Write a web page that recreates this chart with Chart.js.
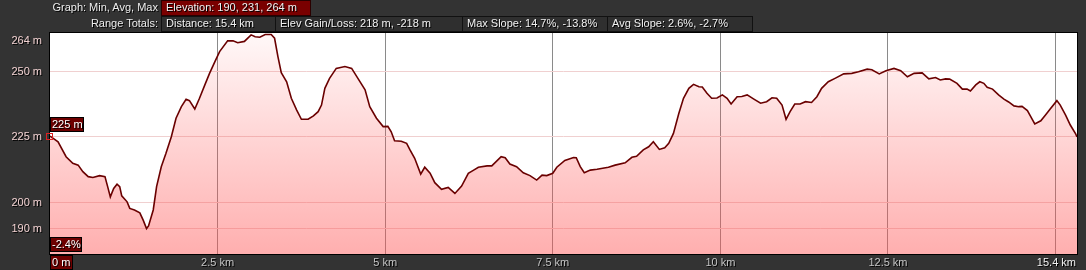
<!DOCTYPE html>
<html>
<head>
<meta charset="utf-8">
<script src="https://cdn.jsdelivr.net/npm/chart.js@4.4.1/dist/chart.umd.min.js"></script>
<style>
  html, body { margin:0; padding:0; background:#333333; width:1086px; height:270px; overflow:hidden; }
  #wrap { position:relative; width:1086px; height:270px; }
  canvas { position:absolute; left:0; top:0; }
  .t { position:absolute; font:11px "Liberation Sans", Arial, sans-serif; color:#ececec; text-shadow:1px 1px 0 #000; white-space:nowrap; line-height:15px; }
  .r { text-align:right; }
  .box { position:absolute; box-sizing:border-box; border:1px solid #111; font:11px "Liberation Sans", Arial, sans-serif; color:#f0f0f0; text-shadow:1px 1px 0 #000; white-space:nowrap; line-height:13px; padding-left:4px; background:#2f2f2f; }
  .red { background:#7a0000; border-color:#2a0000; }
</style>
</head>
<body>
<div id="wrap">
  <canvas id="c" width="1086" height="270"></canvas>
  <div class="t r" style="left:0;width:158px;top:0px;">Graph: Min, Avg, Max</div>
  <div class="box red" style="left:161px;top:0px;width:150px;height:16px;">Elevation: 190, 231, 264 m</div>
  <div class="t r" style="left:0;width:158px;top:16px;">Range Totals:</div>
  <div class="box" style="left:161px;top:16px;width:115px;height:16px;">Distance: 15.4 km</div>
  <div class="box" style="left:275px;top:16px;width:189px;height:16px;">Elev Gain/Loss: 218 m, -218 m</div>
  <div class="box" style="left:462px;top:16px;width:147px;height:16px;">Max Slope: 14.7%, -13.8%</div>
  <div class="box" style="left:607px;top:16px;width:146px;height:16px;">Avg Slope: 2.6%, -2.7%</div>
</div>
<script>
// ---- data ----
const distanceKm = [0.00,0.12,0.24,0.34,0.42,0.49,0.57,0.64,0.74,0.82,0.86,0.90,0.95,1.00,1.04,1.07,1.15,1.19,1.26,1.34,1.39,1.44,1.47,1.54,1.59,1.66,1.73,1.81,1.88,1.96,2.03,2.08,2.16,2.23,2.31,2.38,2.46,2.53,2.65,2.73,2.80,2.90,3.00,3.06,3.13,3.21,3.30,3.35,3.40,3.45,3.53,3.60,3.68,3.75,3.85,3.93,4.00,4.05,4.10,4.17,4.27,4.40,4.50,4.60,4.70,4.77,4.87,4.97,5.04,5.09,5.14,5.24,5.32,5.37,5.44,5.53,5.59,5.67,5.74,5.84,5.94,6.04,6.14,6.24,6.32,6.39,6.52,6.59,6.73,6.79,6.86,6.96,7.06,7.16,7.26,7.34,7.41,7.50,7.56,7.68,7.81,7.85,7.91,7.97,8.06,8.16,8.33,8.43,8.58,8.68,8.75,8.85,8.93,9.00,9.09,9.17,9.23,9.30,9.38,9.45,9.53,9.60,9.68,9.73,9.80,9.87,9.95,10.03,10.10,10.16,10.25,10.32,10.40,10.50,10.60,10.69,10.77,10.84,10.92,10.98,11.04,11.11,11.19,11.27,11.36,11.44,11.51,11.61,11.71,11.84,11.96,12.06,12.19,12.26,12.37,12.47,12.59,12.69,12.79,12.89,13.01,13.11,13.21,13.28,13.36,13.42,13.53,13.61,13.68,13.73,13.81,13.87,13.93,13.98,14.06,14.15,14.23,14.30,14.38,14.45,14.50,14.58,14.63,14.69,14.78,14.85,14.92,15.02,15.07,15.15,15.22,15.30,15.32];
const elevationM = [225.3,223.1,217.4,214.9,214.2,211.7,209.8,209.5,210.2,209.8,206.0,202.1,205.3,206.9,206.0,202.5,200.2,197.7,197.1,196.0,193.2,190.0,191.0,197.1,206.0,213.6,218.7,225.0,232.1,236.5,239.3,238.8,235.6,239.7,244.8,249.2,253.7,257.5,261.6,261.6,260.9,261.4,263.9,263.2,263.0,264.0,264.0,262.6,255.6,249.5,246.0,239.7,235.2,231.7,231.7,233.0,234.6,237.1,243.5,247.3,251.1,251.8,251.1,247.0,242.9,236.5,232.1,228.9,229.0,226.9,223.5,223.3,222.5,220.0,216.8,210.8,213.4,211.1,207.5,205.0,205.7,203.4,206.2,211.1,212.3,213.4,213.9,213.9,217.4,217.0,214.6,213.6,211.3,210.2,208.5,210.4,210.2,211.1,213.4,216.0,217.1,217.0,213.6,211.3,212.3,212.6,213.4,214.2,215.1,217.2,217.6,220.0,221.2,223.1,220.2,220.8,222.5,226.3,233.9,239.7,243.5,245.0,244.1,244.0,241.6,239.7,239.8,241.0,239.7,237.5,240.3,240.4,241.0,239.4,237.8,238.4,239.9,239.7,237.1,231.7,234.6,237.5,237.5,238.4,238.1,240.3,243.5,246.0,247.3,249.0,249.2,249.8,250.8,250.6,249.0,250.2,251.1,250.2,247.9,249.2,249.4,247.1,247.6,246.7,247.1,247.0,245.4,243.2,243.2,242.5,244.8,246.0,245.4,243.9,243.2,241.0,239.4,238.3,236.8,236.5,236.6,235.0,232.7,229.9,231.1,233.3,235.6,238.8,237.1,233.3,229.5,226.1,225.0];
const xTicks = [2.5, 5, 7.5, 10, 12.5, 15];
const xTickLabels = ["2.5 km", "5 km", "7.5 km", "10 km", "12.5 km", ""];
const xStartLabel = "0 m";
const xEndLabel = "15.4 km";
const yTicks = [264, 250, 225, 200, 190];
const yGridTicks = [250, 225, 200, 190];
const cursorElevation = "225 m";
const cursorSlope = "-2.4%";
const X_MAX = 15.32, Y_MIN = 180.3, Y_MAX = 264.6;

const FONT = '11px "Liberation Sans", Arial, sans-serif';

const bgPlugin = {
  id: 'bg',
  beforeDraw(chart) {
    const {ctx, chartArea: a} = chart;
    ctx.save();
    ctx.fillStyle = '#333333';
    ctx.fillRect(0, 0, chart.width, chart.height);
    ctx.fillStyle = '#ffffff';
    ctx.fillRect(a.left, a.top, a.right - a.left, a.bottom - a.top);
    ctx.restore();
  }
};

function shadowText(ctx, txt, x, y, color) {
  ctx.fillStyle = '#000';
  ctx.fillText(txt, x + 1, y + 1);
  ctx.fillStyle = color;
  ctx.fillText(txt, x, y);
}

function labelBox(ctx, txt, x, y, w, h) {
  ctx.fillStyle = '#6e0000';
  ctx.fillRect(x, y, w, h);
  ctx.strokeStyle = '#000';
  ctx.lineWidth = 1;
  ctx.strokeRect(x + 0.5, y + 0.5, w - 1, h - 1);
  ctx.textAlign = 'left';
  ctx.textBaseline = 'middle';
  shadowText(ctx, txt, x + 2, y + h / 2 + 0.5, '#ffffff');
}

const decoPlugin = {
  id: 'deco',
  afterDraw(chart) {
    const {ctx, chartArea: a, scales: {x, y}} = chart;
    ctx.save();
    // border
    ctx.strokeStyle = '#000';
    ctx.lineWidth = 1;
    ctx.strokeRect(a.left - 0.5, a.top - 0.5, a.right - a.left + 1, a.bottom - a.top + 1);
    ctx.font = FONT;
    // y labels
    ctx.textAlign = 'right';
    ctx.textBaseline = 'middle';
    yTicks.forEach(v => {
      const py = Math.max(y.getPixelForValue(v), a.top + 7);
      shadowText(ctx, v + ' m', 42, py + 0.5, '#f2d2d2');
    });
    // x labels
    ctx.textAlign = 'center';
    xTicks.forEach((v, i) => {
      if (xTickLabels[i]) shadowText(ctx, xTickLabels[i], x.getPixelForValue(v), 263, '#c4c4c4');
    });
    ctx.textAlign = 'right';
    shadowText(ctx, xEndLabel, a.right - 1, 263, '#f0f0f0');
    // cursor annotations
    const cx = x.getPixelForValue(distanceKm[0]);
    const cy = y.getPixelForValue(elevationM[0]);
    ctx.strokeStyle = '#e02020';
    ctx.strokeRect(Math.round(cx) - 3.5, Math.round(cy) - 2.5, 6, 6);
    labelBox(ctx, cursorElevation, a.left, Math.round(cy) - 19, 34, 15);
    labelBox(ctx, cursorSlope, a.left, a.bottom - 17, 32, 15);
    labelBox(ctx, xStartLabel, a.left, a.bottom + 1, 23, 15);
    ctx.restore();
  }
};

const points = distanceKm.map((d, i) => ({x: d, y: elevationM[i]}));

new Chart(document.getElementById('c'), {
  type: 'line',
  data: {
    datasets: [{
      data: points,
      borderColor: '#6a0000',
      borderWidth: 1.6,
      pointRadius: 0,
      tension: 0,
      fill: 'start',
      backgroundColor(ctx) {
        const a = ctx.chart.chartArea;
        if (!a) return 'rgba(255,80,80,0.3)';
        const g = ctx.chart.ctx.createLinearGradient(0, a.top, 0, a.bottom);
        g.addColorStop(0, 'rgba(255,80,80,0.04)');
        g.addColorStop(1, 'rgba(255,80,80,0.46)');
        return g;
      }
    }]
  },
  options: {
    responsive: false,
    animation: false,
    events: [],
    layout: { padding: { left: 50, top: 33, right: 9, bottom: 16 } },
    plugins: { legend: { display: false }, tooltip: { enabled: false } },
    scales: {
      x: {
        type: 'linear', min: 0, max: X_MAX,
        afterBuildTicks(s) { s.ticks = xTicks.map(v => ({value: v})); },
        ticks: { display: false },
        grid: { color: '#8a8a8a', lineWidth: 1, drawTicks: false },
        border: { display: false }
      },
      y: {
        min: Y_MIN, max: Y_MAX,
        afterBuildTicks(s) { s.ticks = yGridTicks.map(v => ({value: v})); },
        ticks: { display: false },
        grid: { color: '#f0d0d0', lineWidth: 1, drawTicks: false },
        border: { display: false }
      }
    }
  },
  plugins: [bgPlugin, decoPlugin]
});
</script>
</body>
</html>
